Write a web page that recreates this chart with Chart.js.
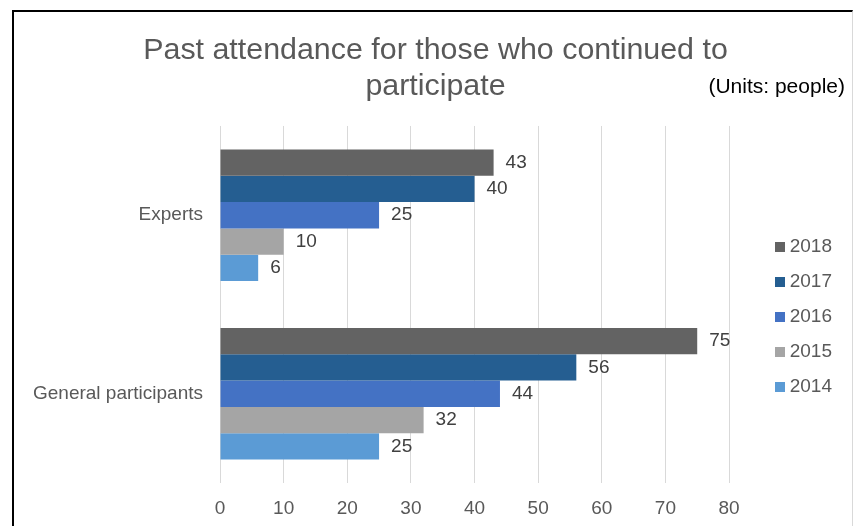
<!DOCTYPE html>
<html>
<head>
<meta charset="utf-8">
<script src="https://cdn.jsdelivr.net/npm/chart.js@4"></script>
<style>
  html, body { margin: 0; padding: 0; background: #fff; }
  #ram {
    position: absolute; left: 12px; top: 10px;
    width: 841px; height: 516px; box-sizing: border-box;
    border-left: 2px solid #000; border-top: 2px solid #000; border-right: 1px solid #d9d9d9;
    background: #fff;
  }
</style>
</head>
<body>
<div id="ram"><canvas id="deltagarChart"></canvas></div>
<script>
// kategorier och värden per år
const kategorier = ['Experts', 'General participants'];
const ar = ['2018', '2017', '2016', '2015', '2014'];
const v2018 = [43, 75];
const v2017 = [40, 56];
const v2016 = [25, 44];
const v2015 = [10, 32];
const v2014 = [6, 25];
const xMin = 0, xMax = 80, xSteg = 10;

const farger = ['#636363', '#255E91', '#4472C4', '#A5A5A5', '#5B9BD5'];
const serier = [v2018, v2017, v2016, v2015, v2014];

const typsnitt = '"Liberation Sans", Arial, sans-serif';
Chart.defaults.font.family = typsnitt;

// små färgrutor till förklaringen
const rutor = farger.map(f => {
    const c = document.createElement('canvas');
    c.width = 10; c.height = 10;
    const g = c.getContext('2d');
    g.fillStyle = f;
    g.fillRect(0, 0, 10, 10);
    return c;
});

// skriver värdet till höger om varje stapel
const vardeEtiketter = {
    id: 'vardeEtiketter',
    afterDatasetsDraw(chart) {
        const ctx = chart.ctx;
        ctx.save();
        ctx.font = '19px ' + typsnitt;
        ctx.fillStyle = '#404040';
        ctx.textAlign = 'left';
        ctx.textBaseline = 'middle';
        chart.data.datasets.forEach((ds, i) => {
            chart.getDatasetMeta(i).data.forEach((bar, j) => {
                ctx.fillText(ds.data[j], bar.x + 12, bar.y);
            });
        });
        ctx.restore();
    }
};

// enhetstext uppe till höger
const enhet = {
    id: 'enhet',
    afterDraw(chart) {
        const ctx = chart.ctx;
        ctx.save();
        ctx.font = '21px ' + typsnitt;
        ctx.fillStyle = '#000';
        ctx.textAlign = 'right';
        ctx.textBaseline = 'middle';
        ctx.fillText('(Units: people)', 831, 75.5);
        ctx.restore();
    }
};

new Chart(document.getElementById('deltagarChart'), {
    type: 'bar',
    data: {
        labels: kategorier,
        datasets: ar.map((a, i) => ({
            label: a,
            data: serier[i],
            backgroundColor: farger[i],
            borderWidth: 0,
            yAxisID: 'y'
        }))
    },
    options: {
        indexAxis: 'y',
        responsive: true,
        maintainAspectRatio: false,
        animation: false,
        devicePixelRatio: 1,
        barPercentage: 1,
        categoryPercentage: 0.737,
        layout: { padding: { left: 15, right: 10, top: 0, bottom: 0 } },
        scales: {
            x: {
                min: xMin,
                max: xMax,
                ticks: { stepSize: xSteg, color: '#595959', font: { size: 19 }, padding: 14 },
                grid: { color: '#d9d9d9', drawTicks: false },
                border: { display: false },
                afterFit(s) { s.height = 43; }
            },
            y: {
                ticks: { color: '#595959', font: { size: 19 }, padding: 17 },
                grid: { display: false, drawTicks: false },
                border: { display: false },
                afterFit(s) { s.width = 191; }
            },
            // tomt utrymme mellan diagram och förklaring
            hoger: {
                type: 'category',
                position: 'right',
                labels: kategorier,
                ticks: { display: false },
                grid: { display: false, drawTicks: false },
                border: { display: false },
                afterFit(s) { s.width = 35.1; }
            }
        },
        plugins: {
            title: {
                display: true,
                text: ['Past attendance for those who continued to', 'participate'],
                color: '#595959',
                font: { size: 30.4, weight: 'normal', lineHeight: 1.2 },
                padding: { top: 20, bottom: 21 }
            },
            legend: {
                position: 'right',
                fullSize: false,
                align: 'center',
                title: { display: true, text: ' ', font: { size: 10 }, padding: { top: 6.5, bottom: 6.5 } },
                labels: {
                    usePointStyle: true,
                    pointStyleWidth: 0.1,
                    boxHeight: 10,
                    padding: 16,
                    color: '#595959',
                    font: { size: 19 },
                    generateLabels(chart) {
                        const poster = Chart.defaults.plugins.legend.labels.generateLabels(chart);
                        poster.forEach((p, i) => { p.pointStyle = rutor[i]; });
                        return poster;
                    }
                }
            },
            tooltip: { enabled: false }
        }
    },
    plugins: [vardeEtiketter, enhet]
});
</script>
</body>
</html>
